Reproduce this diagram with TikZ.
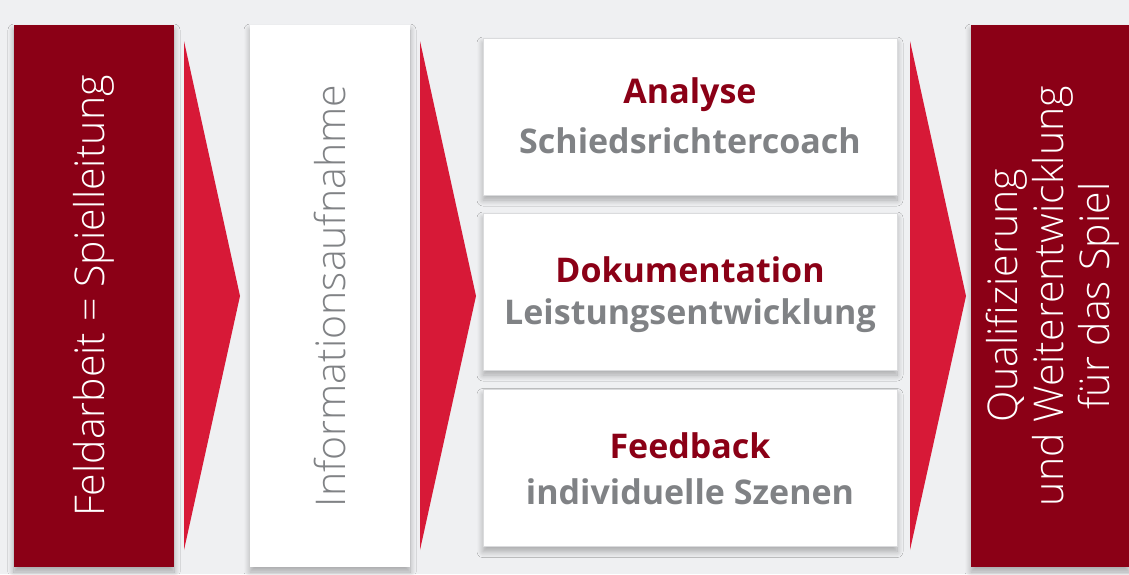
\documentclass[tikz,border=0pt]{standalone}
\usepackage{fontspec}
\setmainfont{Open Sans}
\newfontfamily\lightfont{Open Sans Light}
\usetikzlibrary{shadows.blur}
\definecolor{bg}{HTML}{EFF0F2}
\definecolor{dred}{HTML}{8B0016}
\definecolor{bred}{HTML}{D71937}
\definecolor{tgray}{HTML}{808285}
\definecolor{bgray}{HTML}{DADBDD}
\tikzset{
  sh/.style={blur shadow={shadow xshift=0pt, shadow yshift=-5pt, shadow blur steps=10, shadow opacity=30, shadow blur radius=6pt}},
  redcol/.style={fill=dred, inner sep=0pt, minimum width=160pt, minimum height=542pt, sh},
  whitecol/.style={fill=white, inner sep=0pt, minimum width=160pt, minimum height=542pt, sh},
  stepbox/.style={fill=white, draw=bgray, line width=1pt, inner sep=0pt, minimum width=414pt, minimum height=157pt, sh, align=center},
  arrowtri/.style={fill=bred},
  vtext/.style={rotate=90, font=\lightfont\fontsize{41}{46}\selectfont, align=center},
  title/.style={font=\fontsize{34}{40}\selectfont\bfseries, text=dred},
  sub/.style={font=\fontsize{34}{40}\selectfont\bfseries, text=tgray},
}
\begin{document}
\begin{tikzpicture}[x=1pt,y=-1pt]
\fill[bg] (0,0) rectangle (1129,574);
\useasboundingbox (0,0) rectangle (1129,574);
\node[redcol] (feld) at (94,296) {};
\node[whitecol] (info) at (330,296) {};
\node[stepbox] (ana) at (690,116.5) {};
\node[stepbox] (dok) at (690,291.5) {};
\node[stepbox] (fee) at (690,468) {};
\node[redcol, minimum width=158pt] (qual) at (1050,296) {};
% arrows
\fill[arrowtri] (184,41) -- (240,296) -- (184,550) -- cycle;
\fill[arrowtri] (420,41) -- (476,296) -- (420,550) -- cycle;
\fill[arrowtri] (910,41) -- (966,296) -- (910,550) -- cycle;
% texts
\node[vtext, text=white] (t1) at (feld) {Feldarbeit = Spielleitung};
\node[vtext, text=tgray] (t2) at (info) {Informationsaufnahme};
\node[vtext, text=white] (t3) at ([xshift=3pt]qual.center) {Qualifizierung\\und Weiterentwicklung\\für das Spiel};
\node[title] (a1) at ([yshift=22pt]ana.center) {Analyse};
\node[sub] (a2) at ([yshift=-24pt]ana.center) {Schiedsrichtercoach};
\node[title] (d1) at ([yshift=22pt]dok.center) {Dokumentation};
\node[sub] (d2) at ([yshift=-24pt]dok.center) {Leistungsentwicklung};
\node[title] (f1) at ([yshift=22pt]fee.center) {Feedback};
\node[sub] (f2) at ([yshift=-24pt]fee.center) {individuelle Szenen};
\end{tikzpicture}
\end{document}
